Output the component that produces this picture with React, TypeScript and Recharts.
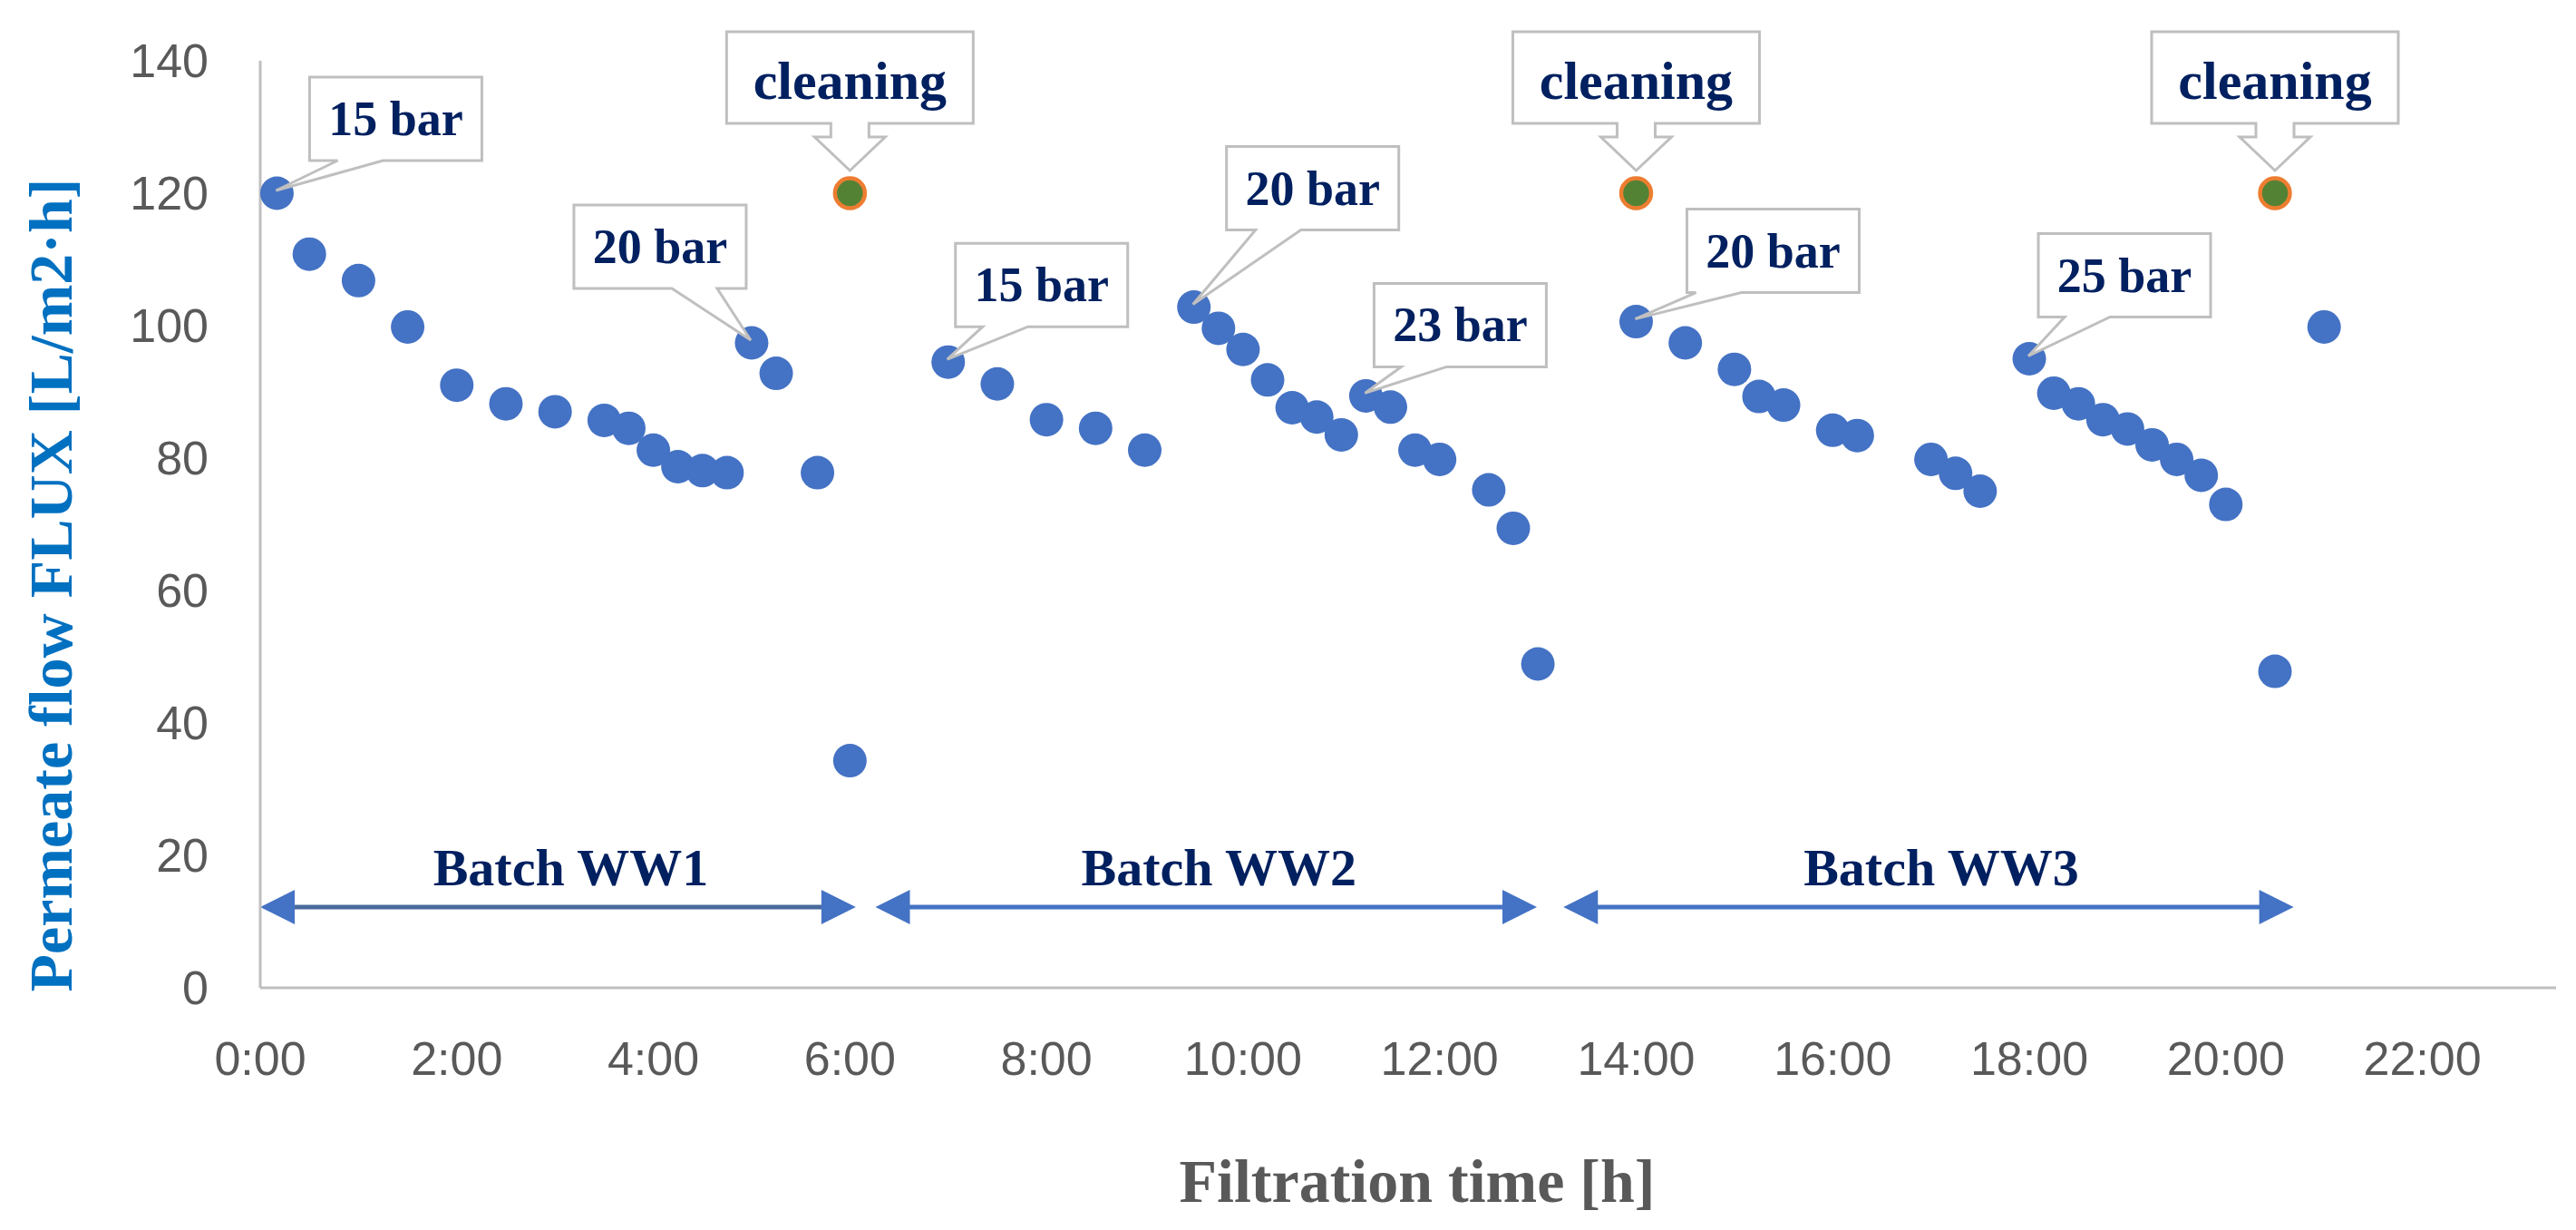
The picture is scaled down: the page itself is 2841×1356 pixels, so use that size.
import { Label, ReferenceLine, Scatter, ScatterChart, XAxis, YAxis } from "recharts";

// filtration time [h] and permeate flux [L/m2·h] per batch
const batch1Hours = [0.17, 0.5, 1, 1.5, 2, 2.5, 3, 3.5, 3.75, 4, 4.25, 4.5, 4.75, 5, 5.25, 5.67, 6];
const batch1Flux = [120, 110.8, 106.8, 99.8, 91, 88.2, 87, 85.7, 84.5, 81.2, 78.7, 78.1, 77.8, 97.4, 92.8, 77.8, 34.3];
const batch2Hours = [7, 7.5, 8, 8.5, 9, 9.5, 9.75, 10, 10.25, 10.5, 10.75, 11, 11.25, 11.5, 11.75, 12, 12.5, 12.75, 13];
const batch2Flux = [94.5, 91.2, 85.8, 84.5, 81.2, 102.8, 99.6, 96.4, 91.8, 87.6, 86.2, 83.5, 89.4, 87.7, 81.2, 79.8, 75.2, 69.4, 48.9];
const batch3Hours = [14, 14.5, 15, 15.25, 15.5, 16, 16.25, 17, 17.25, 17.5, 18, 18.25, 18.5, 18.75, 19, 19.25, 19.5, 19.75, 20, 20.5, 21];
const batch3Flux = [100.6, 97.4, 93.4, 89.3, 88, 84.2, 83.4, 79.8, 77.7, 75, 95, 89.8, 88.2, 85.8, 84.4, 82, 79.8, 77.4, 73, 47.8, 99.8];

const cleaningHours = [6, 14, 20.5];
const cleaningFlux = [120, 120, 120];
const cleaningLabel = "cleaning";

const pressureLabels = ["15 bar", "20 bar", "15 bar", "20 bar", "23 bar", "20 bar", "25 bar"];
const pressureHours = [0.17, 5, 7, 9.5, 11.25, 14, 18];

const batchNames = ["Batch WW1", "Batch WW2", "Batch WW3"];
const batchStart = [0, 6.26, 13.26];
const batchEnd = [6.06, 12.99, 20.69];
const batchArrowFlux = 12.2;

const xTicks = [0, 2, 4, 6, 8, 10, 12, 14, 16, 18, 20, 22];
const yTicks = [0, 20, 40, 60, 80, 100, 120, 140];
const xTitle = "Filtration time [h]";
const yTitle = "Permeate flow FLUX [L/m2·h]";

// callout box placement relative to the point it marks (px)
const calloutOffsets = [
  { dx: 36, dy: -128, wx: 31 },
  { dx: -196, dy: -152, wx: 108 },
  { dx: 8, dy: -131, wx: 30 },
  { dx: 36, dy: -177, wx: 32 },
  { dx: 9, dy: -124, wx: 30 },
  { dx: 56, dy: -124, wx: 10 },
  { dx: 10, dy: -138, wx: 29 },
];

const fluxPoints = [
  ...batch1Hours.map((x, i) => ({ x, y: batch1Flux[i] })),
  ...batch2Hours.map((x, i) => ({ x, y: batch2Flux[i] })),
  ...batch3Hours.map((x, i) => ({ x, y: batch3Flux[i] })),
];
const cleaningPoints = cleaningHours.map((x, i) => ({ x, y: cleaningFlux[i] }));
const pressurePoints = pressureHours.map((x, i) => ({
  x,
  y: fluxPoints.find((p) => p.x === x)!.y,
  label: pressureLabels[i],
  i,
}));

const NAVY = "#002060";
const SERIF = "'Liberation Serif', 'Times New Roman', serif";
const SANS = "'Liberation Sans', Arial, sans-serif";
const BOX = "#BFBFBF";

function FluxDot(props: any) {
  return <circle cx={props.cx} cy={props.cy} r={18.5} fill="#4472C4" />;
}

function PressureCallout(props: any) {
  const { cx, cy, payload } = props;
  const o = calloutOffsets[payload.i];
  const left = cx + o.dx;
  const top = cy + o.dy;
  const right = left + 190;
  const bottom = top + 92;
  const w1 = left + o.wx;
  const w2 = w1 + 50;
  const d = `M${left},${top}H${right}V${bottom}H${w2}L${cx - 1},${cy - 3}L${w1},${bottom}H${left}Z`;
  return (
    <g>
      <path d={d} fill="#fff" stroke={BOX} strokeWidth={3} />
      <text
        x={(left + right) / 2}
        y={top + 64}
        textAnchor="middle"
        fill={NAVY}
        fontFamily={SERIF}
        fontWeight="bold"
        fontSize={54}
      >
        {payload.label}
      </text>
    </g>
  );
}

function CleaningMarker(props: any) {
  const { cx, cy } = props;
  const top = cy - 178;
  const bottom = cy - 77;
  const left = cx - 136;
  const right = cx + 136;
  const d =
    `M${left},${top}H${right}V${bottom}H${cx + 21}V${cy - 62}H${cx + 39}` +
    `L${cx},${cy - 25}L${cx - 39},${cy - 62}H${cx - 21}V${bottom}H${left}Z`;
  return (
    <g>
      <path d={d} fill="#fff" stroke={BOX} strokeWidth={3} />
      <text
        x={cx}
        y={cy - 104}
        textAnchor="middle"
        fill={NAVY}
        fontFamily={SERIF}
        fontWeight="bold"
        fontSize={60}
      >
        {cleaningLabel}
      </text>
      <circle cx={cx} cy={cy} r={16.5} fill="#548235" stroke="#ED7D31" strokeWidth={4.5} />
    </g>
  );
}

function batchArrow(name: string, lineColor: string) {
  return (props: any) => {
    const { x1, y1, x2 } = props;
    const y = y1;
    return (
      <g>
        <line x1={x1 + 30} y1={y} x2={x2 - 30} y2={y} stroke={lineColor} strokeWidth={5} />
        <polygon points={`${x1},${y} ${x1 + 38},${y - 19} ${x1 + 38},${y + 19}`} fill="#4472C4" />
        <polygon points={`${x2},${y} ${x2 - 38},${y - 19} ${x2 - 38},${y + 19}`} fill="#4472C4" />
        <text
          x={(x1 + x2) / 2 + 14}
          y={y - 24}
          textAnchor="middle"
          fill={NAVY}
          fontFamily={SERIF}
          fontWeight="bold"
          fontSize={58}
        >
          {name}
        </text>
      </g>
    );
  };
}

export default function App() {
  const tick = { fill: "#595959", fontSize: 52, fontFamily: SANS };
  const axisLine = { stroke: BOX, strokeWidth: 3 };

  return (
    <div style={{ position: "absolute", left: 0, top: 0, width: 2841, height: 1356, background: "#fff" }}>
      <ScatterChart width={2841} height={1356} margin={{ top: 67, right: 22, bottom: 0, left: 0 }}>
        <XAxis
          type="number"
          dataKey="x"
          domain={[0, 23.36]}
          ticks={xTicks}
          interval={0}
          tickFormatter={(h) => `${h}:00`}
          height={267}
          axisLine={axisLine}
          tickLine={false}
          tickSize={10}
          tickMargin={49}
          tick={tick}
        >
          <Label
            content={(p: any) => {
              const vb = p.viewBox;
              return (
                <text
                  x={vb.x + vb.width / 2 + 10}
                  y={vb.y + vb.height - 31}
                  textAnchor="middle"
                  fill="#595959"
                  fontFamily={SERIF}
                  fontWeight="bold"
                  fontSize={68}
                >
                  {xTitle}
                </text>
              );
            }}
          />
        </XAxis>
        <YAxis
          type="number"
          dataKey="y"
          domain={[0, 140]}
          ticks={yTicks}
          interval={0}
          width={287}
          axisLine={axisLine}
          tickLine={false}
          tickSize={10}
          tickMargin={47}
          tick={tick}
        >
          <Label
            content={(p: any) => {
              const vb = p.viewBox;
              return (
                <text
                  transform={`translate(79, ${vb.y + vb.height / 2 + 67}) rotate(-90)`}
                  textAnchor="middle"
                  fill="#0070C0"
                  fontFamily={SERIF}
                  fontWeight="bold"
                  fontSize={68}
                >
                  {yTitle}
                </text>
              );
            }}
          />
        </YAxis>

        {batchNames.map((name, i) => (
          <ReferenceLine
            key={name}
            segment={[
              { x: batchStart[i], y: batchArrowFlux },
              { x: batchEnd[i], y: batchArrowFlux },
            ]}
            ifOverflow="visible"
            shape={batchArrow(name, i === 0 ? "#4A6A9C" : "#4472C4")}
          />
        ))}

        <Scatter data={fluxPoints} shape={FluxDot} isAnimationActive={false} />
        <Scatter data={pressurePoints} shape={PressureCallout} isAnimationActive={false} />
        <Scatter data={cleaningPoints} shape={CleaningMarker} isAnimationActive={false} />
      </ScatterChart>
    </div>
  );
}
